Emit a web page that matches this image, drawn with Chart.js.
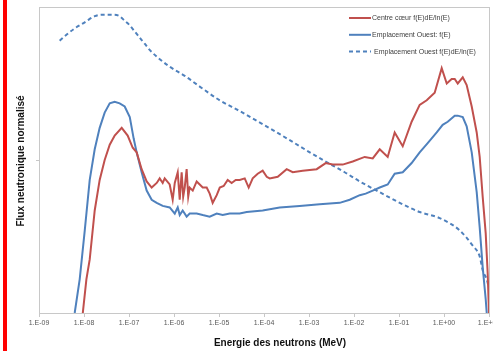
<!DOCTYPE html>
<html>
<head>
<meta charset="utf-8">
<script src="https://cdn.jsdelivr.net/npm/chart.js@4.4.1/dist/chart.umd.min.js"></script>
<style>
  html, body { margin: 0; padding: 0; background: #fff; }
  #wrap { position: relative; width: 493px; height: 351px; overflow: hidden; }
  #bar { position: absolute; left: 3px; top: 0; width: 4px; height: 351px; background: #ff0000; }
</style>
</head>
<body>
<div id="wrap">
  <canvas id="chart" width="493" height="351"></canvas>
  <div id="bar"></div>
</div>
<script>
// Spectres de flux neutronique (normalisés) en fonction de l'énergie

const seriesNames = [
  'Centre cœur f(E)dE/ln(E)',
  'Emplacement Ouest: f(E)',
  'Emplacement Ouest f(E)dE/ln(E)'
]

const xTickValues = [1e-9, 1e-8, 1e-7, 1e-6, 1e-5, 1e-4, 1e-3, 1e-2, 1e-1, 1, 10]
const xTickLabels = ['1.E-09', '1.E-08', '1.E-07', '1.E-06', '1.E-05', '1.E-04',
                     '1.E-03', '1.E-02', '1.E-01', '1.E+00', '1.E+01']

// Centre cœur
const centreEnergy = [
  9.4e-9, 1.13e-8, 1.34e-8, 1.73e-8, 2.23e-8, 2.88e-8, 3.73e-8, 4.81e-8, 6.88e-8, 9.35e-8,
  1.21e-7, 1.48e-7, 1.91e-7, 2.47e-7, 3.19e-7, 4.13e-7, 4.81e-7, 5.61e-7, 6.21e-7, 8.02e-7,
  9.35e-7, 1.04e-6, 1.21e-6, 1.34e-6, 1.48e-6, 1.6e-6, 1.73e-6, 1.91e-6, 2.07e-6, 2.23e-6,
  2.61e-6, 3.19e-6, 3.73e-6, 4.35e-6, 5.33e-6, 6.21e-6, 7.24e-6, 8.9e-6, 1.04e-5, 1.27e-5,
  1.56e-5, 1.91e-5, 2.35e-5, 2.88e-5, 3.73e-5, 4.57e-5, 5.61e-5, 7.24e-5, 9.35e-5, 1.15e-4,
  1.34e-4, 2.02e-4, 3.19e-4, 4.35e-4, 7.24e-4, 1.48e-3, 2.35e-3, 3.37e-3, 5.61e-3, 9.35e-3,
  1.73e-2, 2.61e-2, 3.73e-2, 5.61e-2, 8.02e-2, 0.121, 0.191, 0.288, 0.413, 0.621,
  0.889, 1.15, 1.48, 1.73, 2.02, 2.61, 3.19, 4.13, 5.33, 6.21,
  7.24, 8.45, 9.35, 10
]
const centreFlux = [
  0, 0.22, 0.35, 0.67, 0.87, 1.0, 1.10, 1.16, 1.21, 1.16,
  1.08, 1.05, 0.94, 0.86, 0.82, 0.85, 0.88, 0.85, 0.88, 0.84,
  0.74, 0.85, 0.92, 0.74, 0.92, 0.76, 0.82, 0.94, 0.76, 0.82,
  0.80, 0.86, 0.84, 0.82, 0.82, 0.78, 0.72, 0.77, 0.82, 0.83,
  0.87, 0.85, 0.87, 0.87, 0.88, 0.82, 0.88, 0.91, 0.93, 0.89,
  0.88, 0.89, 0.94, 0.92, 0.93, 0.94, 0.98, 0.97, 0.97, 0.99,
  1.02, 1.01, 1.07, 1.02, 1.18, 1.09, 1.25, 1.36, 1.39, 1.44,
  1.60, 1.50, 1.53, 1.53, 1.50, 1.54, 1.49, 1.35, 1.18, 1.02,
  0.76, 0.52, 0.26, 0
]

// Emplacement Ouest : f(E)
const ouestEnergy = [
  6.21e-9, 8.02e-9, 1.04e-8, 1.34e-8, 1.73e-8, 2.23e-8, 2.88e-8, 3.73e-8, 4.81e-8, 6.21e-8,
  8.02e-8, 1.04e-7, 1.27e-7, 1.48e-7, 1.91e-7, 2.47e-7, 3.19e-7, 4.13e-7, 5.61e-7, 8.02e-7,
  1.04e-6, 1.21e-6, 1.34e-6, 1.56e-6, 1.91e-6, 2.23e-6, 3.19e-6, 4.35e-6, 6.21e-6, 8.9e-6,
  1.21e-5, 1.73e-5, 2.88e-5, 4.13e-5, 9.35e-5, 2.23e-4, 6.21e-4, 1.73e-3, 4.81e-3, 8.02e-3,
  1.34e-2, 1.82e-2, 2.61e-2, 3.73e-2, 5.61e-2, 8.02e-2, 0.121, 0.191, 0.288, 0.434,
  0.689, 0.935, 1.21, 1.73, 2.02, 2.61, 3.19, 4.13, 5.33, 6.21,
  7.24, 8.45, 8.9
]
const ouestFlux = [
  0, 0.22, 0.54, 0.87, 1.07, 1.21, 1.31, 1.37, 1.38, 1.37,
  1.35, 1.28, 1.14, 1.05, 0.92, 0.80, 0.74, 0.72, 0.70, 0.69,
  0.65, 0.69, 0.64, 0.67, 0.63, 0.65, 0.65, 0.64, 0.63, 0.65,
  0.64, 0.65, 0.65, 0.66, 0.67, 0.69, 0.70, 0.71, 0.72, 0.74,
  0.77, 0.78, 0.80, 0.82, 0.84, 0.91, 0.92, 0.98, 1.05, 1.11,
  1.18, 1.23, 1.25, 1.29, 1.29, 1.28, 1.22, 1.05, 0.79, 0.56,
  0.30, 0.09, 0
]

// Emplacement Ouest : f(E)dE/ln(E)
const ouestLethEnergy = [
  2.88e-9, 4.13e-9, 6.21e-9, 1.04e-8, 1.73e-8, 2.47e-8, 3.37e-8, 4.57e-8, 6.21e-8, 8.02e-8,
  1.04e-7, 1.34e-7, 1.73e-7, 2.23e-7, 2.88e-7, 4.35e-7, 8.02e-7, 1.73e-6, 3.73e-6, 1.04e-5,
  2.88e-5, 9.85e-5, 3.73e-4, 1.04e-3, 2.35e-3, 6.21e-3, 1.34e-2, 3.19e-2, 0.104, 0.288,
  0.802, 2.23, 4.35, 6.21, 7.24, 8.9, 9.85
]
const ouestLethFlux = [
  1.78, 1.82, 1.86, 1.90, 1.94, 1.95, 1.95, 1.95, 1.94, 1.91,
  1.88, 1.84, 1.80, 1.76, 1.72, 1.67, 1.61, 1.55, 1.48, 1.39,
  1.32, 1.23, 1.13, 1.05, 0.99, 0.92, 0.86, 0.80, 0.72, 0.66,
  0.62, 0.54, 0.44, 0.37, 0.28, 0.22, 0.17
]

const toPoints = (xs, ys) => xs.map((x, i) => ({x: x, y: ys[i]}))

const RED = '#c0504d'
const BLUE = '#4f81bd'
const GRID = '#c8c8c8'

Chart.defaults.font.family = "'Liberation Sans', Arial, sans-serif"

// cadre du graphique, titres des axes et légende
const decorations = {
  id: 'decorations',
  beforeDatasetsDraw(chart) {
    const {ctx, chartArea: a} = chart
    ctx.save()
    ctx.strokeStyle = GRID
    ctx.lineWidth = 1
    ctx.strokeRect(Math.round(a.left) + 0.5, Math.round(a.top) + 0.5,
                   Math.round(a.right - a.left), Math.round(a.bottom - a.top))
    ctx.restore()
  },
  afterDraw(chart) {
    const ctx = chart.ctx
    ctx.save()
    ctx.fillStyle = '#111'
    ctx.font = "bold 10px 'Liberation Sans', Arial, sans-serif"
    ctx.textAlign = 'center'
    ctx.textBaseline = 'middle'
    ctx.fillText('Energie des neutrons (MeV)', 280, 343)
    ctx.translate(21, 161)
    ctx.rotate(-Math.PI / 2)
    ctx.fillText('Flux neutronique normalisé', 0, 0)
    ctx.restore()

    ctx.save()
    ctx.font = "7px 'Liberation Sans', Arial, sans-serif"
    ctx.textBaseline = 'middle'
    ctx.textAlign = 'left'
    chart.data.datasets.forEach((ds, i) => {
      const y = 18 + i * 16.8
      ctx.strokeStyle = ds.borderColor
      ctx.lineWidth = 2
      ctx.setLineDash(ds.borderDash || [])
      ctx.beginPath()
      ctx.moveTo(349, y)
      ctx.lineTo(371, y)
      ctx.stroke()
      ctx.fillStyle = '#404040'
      ctx.fillText(ds.label, i === 2 ? 374 : 372, y)
    })
    ctx.restore()
  }
}

new Chart(document.getElementById('chart').getContext('2d'), {
  type: 'line',
  data: {
    datasets: [
      {
        label: seriesNames[0],
        data: toPoints(centreEnergy, centreFlux),
        borderColor: RED,
        borderWidth: 2,
        pointRadius: 0,
        tension: 0
      },
      {
        label: seriesNames[1],
        data: toPoints(ouestEnergy, ouestFlux),
        borderColor: BLUE,
        borderWidth: 2,
        pointRadius: 0,
        tension: 0
      },
      {
        label: seriesNames[2],
        data: toPoints(ouestLethEnergy, ouestLethFlux),
        borderColor: BLUE,
        borderWidth: 2,
        borderDash: [4, 3],
        pointRadius: 0,
        cubicInterpolationMode: 'monotone'
      }
    ]
  },
  options: {
    responsive: false,
    animation: false,
    layout: { padding: { left: 0, right: 4, top: 7, bottom: 0 } },
    plugins: {
      legend: { display: false },
      tooltip: { enabled: false }
    },
    scales: {
      x: {
        type: 'logarithmic',
        min: 1e-9,
        max: 10,
        afterBuildTicks: scale => { scale.ticks = xTickValues.map(v => ({value: v})) },
        afterFit: scale => {
          scale.height = 38
          scale.paddingLeft = 0
          scale.paddingRight = 0
        },
        grid: { drawOnChartArea: false, color: GRID, tickLength: 4 },
        border: { color: GRID },
        ticks: {
          autoSkip: false,
          maxRotation: 0,
          minRotation: 0,
          padding: 2,
          color: '#595959',
          font: { size: 7 },
          callback: (value, index) => xTickLabels[index]
        }
      },
      y: {
        type: 'linear',
        min: 0,
        max: 2,
        afterBuildTicks: scale => { scale.ticks = [{value: 1}] },
        afterFit: scale => { scale.width = 39 },
        grid: { drawOnChartArea: false, color: GRID, tickLength: 3 },
        border: { color: GRID },
        ticks: { display: false }
      }
    }
  },
  plugins: [decorations]
})
</script>
</body>
</html>
